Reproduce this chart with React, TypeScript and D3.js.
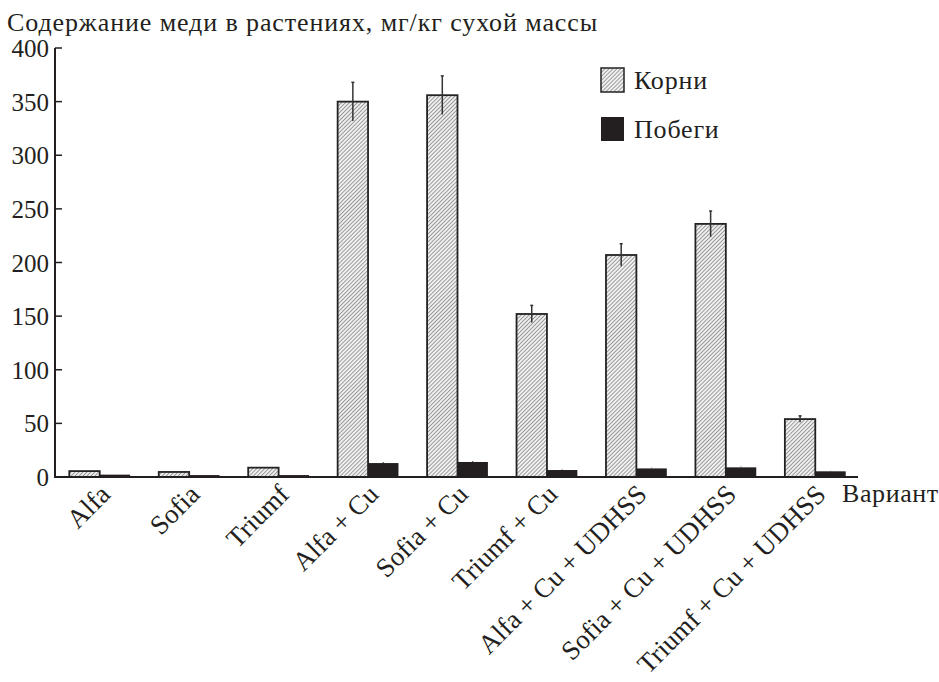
import React from "react";
import * as d3 from "d3";

const categories = [
  "Alfa",
  "Sofia",
  "Triumf",
  "Alfa + Cu",
  "Sofia + Cu",
  "Triumf + Cu",
  "Alfa + Cu + UDHSS",
  "Sofia + Cu + UDHSS",
  "Triumf + Cu + UDHSS",
];
const roots = [5.5, 4.7, 8.7, 350, 356, 152, 207, 236, 54];
const rootsErr = [0, 0, 0, 18, 18, 8, 10.5, 12, 3];
const shoots = [2.2, 1.8, 1.8, 13, 14, 6.5, 8, 9, 5.3];
const shootsErr = [0, 0, 0, 1, 1, 0.5, 0.7, 0.7, 0.5];
const yTicks = [0, 50, 100, 150, 200, 250, 300, 350, 400];
const seriesNames = ["Корни", "Побеги"];

const W = 939;
const H = 682;
const FONT = "'Liberation Serif', 'DejaVu Serif', serif";
const INK = "#231f20";

export default function App() {
  const x0 = 55;
  const x1 = 860;
  const yTop = 48;
  const yBot = 477;
  const x = d3
    .scaleBand<string>()
    .domain(categories)
    .range([x0, x1])
    .paddingInner(0.32)
    .paddingOuter(0.16);
  const xs = d3
    .scaleBand<string>()
    .domain(["r", "s"])
    .range([0, x.bandwidth()])
    .padding(0);
  const y = d3.scaleLinear().domain([0, 400]).range([yBot, yTop]);

  return (
    <svg
      width={W}
      height={H}
      style={{ position: "absolute", left: 0, top: 0, background: "#fff" }}
      fontFamily={FONT}
    >
      <defs>
        <pattern
          id="hatch"
          patternUnits="userSpaceOnUse"
          width={2.8}
          height={2.8}
          patternTransform="rotate(45)"
        >
          <rect width={2.8} height={2.8} fill="#f0f0f0" />
          <line x1={0} y1={0} x2={0} y2={2.8} stroke="#6e6e6e" strokeWidth={1.3} />
        </pattern>
      </defs>
      <rect width={W} height={H} fill="#fff" />
      <text x={7} y={31} fontSize={26} letterSpacing={0.9} fill={INK}>
        Содержание меди в растениях,  мг/кг сухой массы
      </text>

      {/* bars */}
      {categories.map((c, i) => {
        const bx = x(c)!;
        const rx = bx + xs("r")!;
        const sx = bx + xs("s")!;
        const bw = xs.bandwidth();
        return (
          <g key={c}>
            <rect
              x={rx}
              y={y(roots[i])}
              width={bw}
              height={yBot - y(roots[i])}
              fill="url(#hatch)"
              stroke="#222"
              strokeWidth={1.8}
            />
            <rect
              x={sx}
              y={y(shoots[i])}
              width={bw}
              height={yBot - y(shoots[i])}
              fill={INK}
            />
            {rootsErr[i] > 0 && (
              <g stroke="#333" strokeWidth={1.5}>
                <line
                  x1={rx + bw / 2}
                  x2={rx + bw / 2}
                  y1={y(roots[i] + rootsErr[i])}
                  y2={y(roots[i] - rootsErr[i])}
                />
                <line
                  x1={rx + bw / 2 - 1.5}
                  x2={rx + bw / 2 + 1.5}
                  y1={y(roots[i] + rootsErr[i])}
                  y2={y(roots[i] + rootsErr[i])}
                />
              </g>
            )}
            {shootsErr[i] > 0 && (
              <line
                x1={sx + bw / 2}
                x2={sx + bw / 2}
                y1={y(shoots[i] + shootsErr[i])}
                y2={y(shoots[i])}
                stroke="#555"
                strokeWidth={1.2}
              />
            )}
          </g>
        );
      })}

      {/* axes */}
      <line x1={x0} x2={x0} y1={yTop} y2={yBot} stroke={INK} strokeWidth={2} />
      <line x1={x0 - 1} x2={858} y1={yBot} y2={yBot} stroke={INK} strokeWidth={2} />
      {yTicks.map((t) => (
        <g key={t}>
          <line x1={x0} x2={x0 + 7} y1={y(t)} y2={y(t)} stroke={INK} strokeWidth={1.5} />
          <text
            x={x0 - 6}
            y={y(t)}
            dy="0.36em"
            textAnchor="end"
            fontSize={25}
            fill={INK}
          >
            {t}
          </text>
        </g>
      ))}

      {/* x labels */}
      {categories.map((c) => {
        const cx = x(c)! + x.bandwidth() / 2;
        return (
          <text
            key={c}
            transform={`translate(${cx + 12},${496}) rotate(-45)`}
            textAnchor="end"
            fontSize={27}
            fill={INK}
          >
            {c}
          </text>
        );
      })}
      <text x={842} y={502} fontSize={26} letterSpacing={0.6} fill={INK}>
        Вариант
      </text>

      {/* legend */}
      <rect x={601} y={68} width={23} height={24} fill="url(#hatch)" stroke="#222" strokeWidth={1.5} />
      <text x={634} y={89} fontSize={26} letterSpacing={0.8} fill={INK}>
        {seriesNames[0]}
      </text>
      <rect x={601} y={117} width={23} height={24} fill={INK} />
      <text x={634} y={138} fontSize={26} letterSpacing={0.8} fill={INK}>
        {seriesNames[1]}
      </text>
    </svg>
  );
}
